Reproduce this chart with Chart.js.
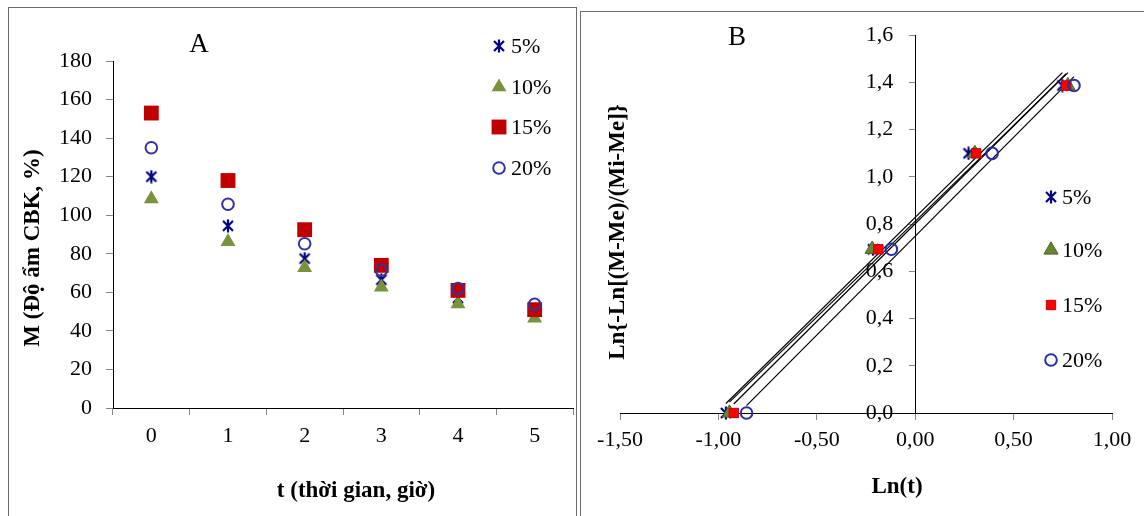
<!DOCTYPE html>
<html>
<head>
<meta charset="utf-8">
<script src="https://cdn.jsdelivr.net/npm/chart.js@4.4.1/dist/chart.umd.min.js"></script>
<style>
  html, body { margin: 0; padding: 0; background: #fff; width: 1144px; height: 516px; overflow: hidden; }
  .frame { position: absolute; border: 1px solid #6b6b6b; }
  #frameA { left: 8px; top: 7px; width: 567px; height: 560px; }
  #frameB { left: 580px; top: 11px; width: 600px; height: 560px; }
  canvas { position: absolute; left: 0; top: 0; }
</style>
</head>
<body>
<div class="frame" id="frameA"></div>
<div class="frame" id="frameB"></div>
<canvas id="chartA" width="1144" height="516" style="width:1144px;height:516px"></canvas>
<canvas id="chartB" width="1144" height="516" style="width:1144px;height:516px"></canvas>
<script>
// --- panel A: moisture M vs drying time t ---
const hours = ["0", "1", "2", "3", "4", "5"];
const m5 = [120, 94.5, 77.5, 66.5, 57, 50.5];
const m10 = [108.5, 86.3, 72.8, 62.7, 54, 46.6];
const m15 = [153, 118, 92.5, 74, 61, 51];
const m20 = [135, 105.7, 85.2, 71.5, 62, 53.8];
const names = ["5%", "10%", "15%", "20%"];

// --- panel B: Ln{-Ln[...]} vs Ln(t) ---
const yB = [0, 0.693, 1.099, 1.386];
const lnT5 = [-0.962, -0.215, 0.271, 0.748];
const lnT10 = [-0.944, -0.219, 0.303, 0.776];
const lnT15 = [-0.922, -0.187, 0.310, 0.767];
const lnT20 = [-0.857, -0.121, 0.391, 0.807];
// linear trend lines, end points
const fitStartX = [-0.962, -0.944, -0.922, -0.857];
const fitStartY = [0.040, 0.046, 0.038, 0.031];
const fitEndX = [0.748, 0.776, 0.767, 0.807];
const fitEndY = [1.441, 1.441, 1.436, 1.424];

const SERIF = "'Liberation Serif', 'Times New Roman', serif";
const tickFont = { family: SERIF, size: 22 };

function starMark(size, color, lw) {
  const c = document.createElement("canvas");
  c.width = c.height = size;
  const g = c.getContext("2d");
  const m = size / 2, e = 2;
  g.strokeStyle = color; g.lineWidth = lw;
  g.beginPath();
  g.moveTo(m, 0.5); g.lineTo(m, size - 0.5);
  g.moveTo(e, e); g.lineTo(size - e, size - e);
  g.moveTo(size - e, e); g.lineTo(e, size - e);
  g.stroke();
  return c;
}
const STAR = starMark(14, "#000080", 2.2);

// marker styles per series (A and B differ slightly)
const stylesA = [
  { pointStyle: STAR, radius: 7, bg: "#000080", border: "#000080", bw: 0 },
  { pointStyle: "triangle", radius: 8.6, bg: "#77933C", border: "#77933C", bw: 0 },
  { pointStyle: "rect", radius: 10.5, bg: "#C00000", border: "#C00000", bw: 0 },
  { pointStyle: "circle", radius: 5.8, bg: "rgba(0,0,0,0)", border: "#3333A0", bw: 2 },
];
const stylesB = [
  { pointStyle: STAR, radius: 7, bg: "#000080", border: "#000080", bw: 0 },
  { pointStyle: "triangle", radius: 8.2, bg: "#6A8532", border: "#4F6228", bw: 1 },
  { pointStyle: "rect", radius: 6.6, bg: "#FF0000", border: "#C00000", bw: 1 },
  { pointStyle: "circle", radius: 5.8, bg: "rgba(0,0,0,0)", border: "#2B2F9E", bw: 2 },
];

function markerDs(label, data, st, order) {
  return {
    label, data, order, showLine: false, clip: false,
    pointStyle: st.pointStyle, pointRadius: st.radius, pointHoverRadius: st.radius,
    pointBackgroundColor: st.bg, pointBorderColor: st.border, pointBorderWidth: st.bw,
    backgroundColor: st.bg, borderColor: st.border,
  };
}

function drawMark(ctx, st, x, y) {
  ctx.save();
  ctx.fillStyle = st.bg; ctx.strokeStyle = st.border; ctx.lineWidth = st.bw;
  Chart.helpers.drawPoint(ctx, { pointStyle: st.pointStyle, radius: st.radius, borderWidth: st.bw, rotation: 0 }, x, y);
  ctx.restore();
}

// titles, panel letters and the hand-placed legends
const textLayer = {
  id: "textLayer",
  afterDraw(chart, args, o) {
    const ctx = chart.ctx;
    (o.texts || []).forEach((t) => {
      ctx.save();
      ctx.fillStyle = "#000"; ctx.font = t.font;
      ctx.textAlign = "center"; ctx.textBaseline = "middle";
      ctx.translate(t.x, t.y);
      if (t.rot) ctx.rotate(t.rot);
      ctx.fillText(t.text, 0, 0);
      ctx.restore();
    });
    const lg = o.legend;
    if (!lg) return;
    lg.rows.forEach((ry, i) => {
      drawMark(ctx, lg.styles[i], lg.x, ry);
      ctx.save();
      ctx.fillStyle = "#000"; ctx.font = `22px ${SERIF}`;
      ctx.textAlign = "left"; ctx.textBaseline = "middle";
      ctx.fillText(names[i], lg.textX, ry + 1);
      ctx.restore();
    });
  },
};

const axisGrid = { drawOnChartArea: false, tickLength: 7, color: "#868686" };

new Chart(document.getElementById("chartA"), {
  type: "line",
  data: {
    labels: hours,
    datasets: [
      markerDs(names[0], m5, stylesA[0], 4),
      markerDs(names[1], m10, stylesA[1], 3),
      markerDs(names[2], m15, stylesA[2], 2),
      markerDs(names[3], m20, stylesA[3], 1),
    ],
  },
  options: {
    responsive: false, animation: false,
    layout: { padding: { left: 0, top: 61, right: 571, bottom: 0 } },
    plugins: {
      legend: { display: false }, tooltip: { enabled: false },
      textLayer: {
        texts: [
          { text: "A", x: 199, y: 45, font: `27px ${SERIF}` },
          { text: "t (thời gian, giờ)", x: 356, y: 491, font: `bold 23px ${SERIF}` },
          { text: "M (Độ ẩm CBK, %)", x: 33, y: 248, rot: -Math.PI / 2, font: `bold 23px ${SERIF}` },
        ],
        legend: { x: 499, textX: 511, rows: [46, 87, 127, 168], styles: stylesA },
      },
    },
    scales: {
      x: {
        offset: true,
        grid: { ...axisGrid, offset: true },
        border: { color: "#000" },
        ticks: { font: tickFont, color: "#000", padding: 8 },
        afterFit: (s) => { s.height = 108; },
      },
      y: {
        min: 0, max: 180,
        grid: axisGrid,
        border: { color: "#000" },
        ticks: { stepSize: 20, font: tickFont, color: "#000", padding: 14 },
        afterFit: (s) => { s.width = 113; },
      },
    },
  },
  plugins: [textLayer],
});

const pts = (xs) => xs.map((x, i) => ({ x, y: yB[i] }));
const fitDs = (i) => ({
  data: [{ x: fitStartX[i], y: fitStartY[i] }, { x: fitEndX[i], y: fitEndY[i] }],
  showLine: true, borderColor: "#000", borderWidth: 1.2, pointRadius: 0, order: 10, clip: false,
});
// a y axis placed at x=0 gets no tick padding, so the gap is carried by two en spaces
const comma = (d, pad = "") => (v) => v.toFixed(d).replace(".", ",") + pad;

new Chart(document.getElementById("chartB"), {
  type: "scatter",
  data: {
    datasets: [
      markerDs(names[0], pts(lnT5), stylesB[0], 4),
      markerDs(names[1], pts(lnT10), stylesB[1], 3),
      markerDs(names[2], pts(lnT15), stylesB[2], 2),
      markerDs(names[3], pts(lnT20), stylesB[3], 1),
      fitDs(0), fitDs(1), fitDs(2), fitDs(3),
    ],
  },
  options: {
    responsive: false, animation: false,
    layout: { padding: { left: 620, top: 35, right: 32, bottom: 103 } },
    plugins: {
      legend: { display: false }, tooltip: { enabled: false },
      textLayer: {
        texts: [
          { text: "B", x: 737, y: 38, font: `27px ${SERIF}` },
          { text: "Ln(t)", x: 897, y: 487, font: `bold 23px ${SERIF}` },
          { text: "Ln{-Ln[(M-Me)/(Mi-Me]}", x: 618, y: 232, rot: -Math.PI / 2, font: `bold 23px ${SERIF}` },
        ],
        legend: { x: 1051, textX: 1062, rows: [197, 250, 305, 360], styles: stylesB },
      },
    },
    scales: {
      x: {
        type: "linear", min: -1.5, max: 1.0, position: { y: 0 },
        grid: { ...axisGrid, tickLength: 6 },
        border: { color: "#000" },
        ticks: { stepSize: 0.5, font: tickFont, color: "#000", padding: 8, callback: comma(2) },
        afterFit: (s) => { s.height = 0; },
      },
      y: {
        type: "linear", min: 0, max: 1.6, position: { x: 0 },
        grid: { ...axisGrid, tickLength: 6 },
        border: { color: "#000" },
        ticks: { stepSize: 0.2, font: tickFont, color: "#000", callback: comma(1, "\u2002\u2002") },
        afterFit: (s) => { s.width = 0; },
      },
    },
  },
  plugins: [textLayer],
});
</script>
</body>
</html>
